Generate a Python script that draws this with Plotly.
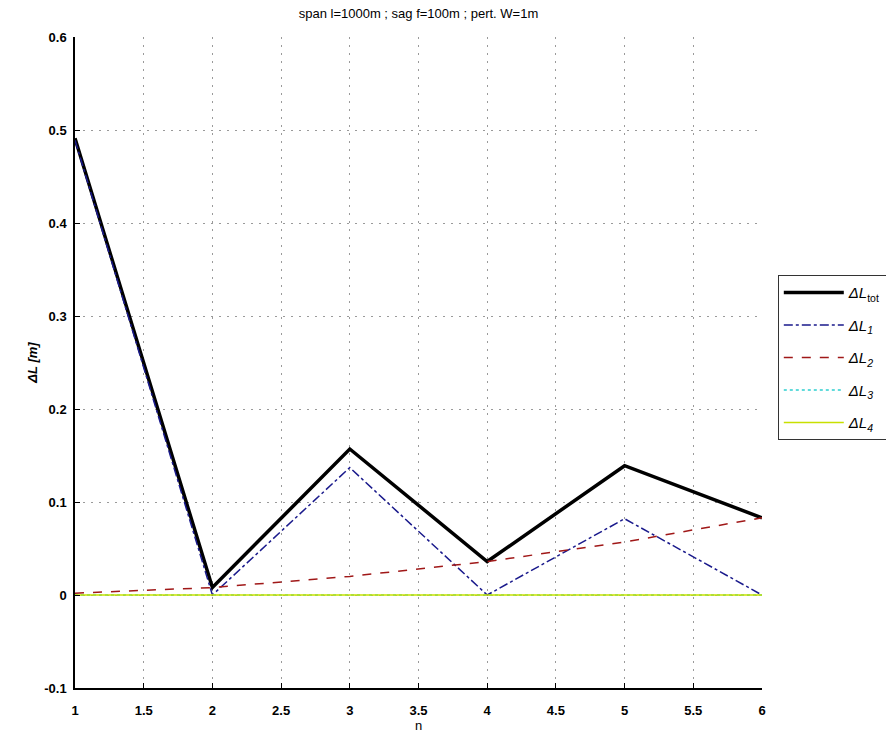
import plotly.graph_objects as go

# Mode number
n = [1, 2, 3, 4, 5, 6]

# Length changes per mode [m]
dL_tot = [0.491, 0.008, 0.157, 0.036, 0.139, 0.083]
dL_1 = [0.489, 0.000, 0.137, 0.000, 0.082, 0.000]
dL_2 = [0.002, 0.008, 0.020, 0.036, 0.057, 0.083]
dL_3 = [0.000, 0.000, 0.000, 0.000, 0.000, 0.000]
dL_4 = [0.000, 0.000, 0.000, 0.000, 0.000, 0.000]

x_ticks = [1, 1.5, 2, 2.5, 3, 3.5, 4, 4.5, 5, 5.5, 6]
x_tick_text = ["1", "1.5", "2", "2.5", "3", "3.5", "4", "4.5", "5", "5.5", "6"]
y_ticks = [-0.1, 0, 0.1, 0.2, 0.3, 0.4, 0.5, 0.6]
y_tick_text = ["-0.1", "0", "0.1", "0.2", "0.3", "0.4", "0.5", "0.6"]

series = [
    ("<i>ΔL</i><sub>tot</sub>", dL_tot, "#000000", "solid", 3.5),
    ("<i>ΔL</i><sub><i>1</i></sub>", dL_1, "#1a1a8c", "dashdot", 1.5),
    ("<i>ΔL</i><sub><i>2</i></sub>", dL_2, "#a01818", "dash", 1.5),
    ("<i>ΔL</i><sub><i>3</i></sub>", dL_3, "#2ecfd0", "dot", 1.5),
    ("<i>ΔL</i><sub><i>4</i></sub>", dL_4, "#c8e000", "solid", 1.5),
]

fig = go.Figure()
for i, (name, vals, color, dash, width) in enumerate(series):
    fig.add_trace(go.Scatter(
        x=n, y=vals, mode="lines", name=name, legendgroup=f"g{i}",
        line=dict(color=color, dash=dash, width=width),
    ))

font_family = "Liberation Sans, Arial, sans-serif"
grid_style = dict(showgrid=True, gridcolor="#9a9a9a", griddash="2px,6px", gridwidth=1)

fig.update_layout(
    width=886, height=735,
    paper_bgcolor="white", plot_bgcolor="white",
    margin=dict(l=75, r=124, t=37, b=47, autoexpand=False),
    font=dict(family=font_family, color="black", size=13),
    title=dict(
        text="span l=1000m ; sag f=100m ; pert. W=1m",
        x=0.5, xref="paper", xanchor="center",
        y=1 - 13 / 735, yanchor="middle",
        font=dict(size=13, family=font_family),
    ),
    showlegend=True,
    legend=dict(
        x=1.023, y=0.634, xanchor="left", yanchor="top",
        bordercolor="#333333", borderwidth=1, bgcolor="white",
        font=dict(size=15, family=font_family),
        tracegroupgap=10, itemwidth=60,
    ),
    xaxis=dict(
        range=[1, 6], tickvals=x_ticks, ticktext=x_tick_text,
        showline=True, linecolor="black", linewidth=1.5, mirror=False,
        ticks="inside", ticklen=5, tickcolor="black",
        zeroline=False, ticklabelstandoff=10,
        tickfont=dict(size=13, family=font_family, weight="bold"),
        title=dict(text="n", standoff=4, font=dict(size=13)),
        **grid_style,
    ),
    yaxis=dict(
        range=[-0.1, 0.6], tickvals=y_ticks, ticktext=y_tick_text,
        showline=True, linecolor="black", linewidth=1.5, mirror=False,
        ticks="inside", ticklen=5, tickcolor="black",
        zeroline=False, ticklabelstandoff=4,
        tickfont=dict(size=13, family=font_family, weight="bold"),
        title=dict(text="<i><b>ΔL [m]</b></i>", standoff=4, font=dict(size=13)),
        **grid_style,
    ),
)

fig.write_html("out.html")
